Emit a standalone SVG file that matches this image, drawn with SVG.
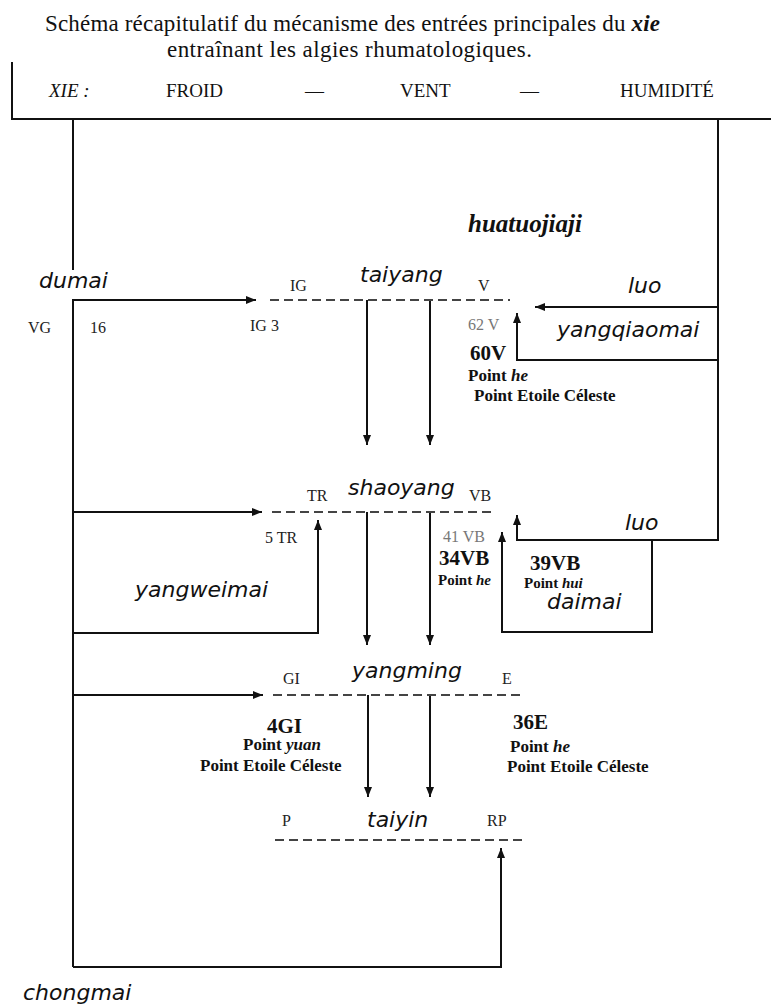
<svg xmlns="http://www.w3.org/2000/svg" width="771" height="1005" viewBox="0 0 771 1005">
<defs>
<style>
.ln{fill:none;stroke:#111;stroke-width:2}
.ds{fill:none;stroke:#444;stroke-width:2;stroke-dasharray:9 5}
.ttl{font-family:"Liberation Serif",serif;font-size:23px;fill:#111}
.row{font-family:"Liberation Serif",serif;font-size:19px;fill:#111}
.sans{font-family:"DejaVu Sans",Verdana,sans-serif;font-style:italic;font-size:22px;fill:#111}
.lab{font-family:"Liberation Serif",serif;font-size:16px;fill:#222}
.grey{font-family:"Liberation Serif",serif;font-size:16px;fill:#777}
.big{font-family:"Liberation Serif",serif;font-size:21px;font-weight:bold;fill:#111}
.pt{font-family:"Liberation Serif",serif;font-size:17px;font-weight:bold;fill:#111}
.pts{font-family:"Liberation Serif",serif;font-size:15px;font-weight:bold;fill:#111}
.hua{font-family:"Liberation Serif",serif;font-size:25px;font-weight:bold;font-style:italic;fill:#111}
</style>
<marker id="ar" viewBox="0 0 10 8" refX="10" refY="4" markerWidth="10" markerHeight="8" markerUnits="userSpaceOnUse" orient="auto">
<path d="M0,0 L10,4 L0,8 z" fill="#111"/>
</marker>
</defs>
<rect width="771" height="1005" fill="#fff"/>

<g id="title">
<text class="ttl" x="45" y="31" textLength="615" lengthAdjust="spacing">Schéma récapitulatif du mécanisme des entrées principales du <tspan font-weight="bold" font-style="italic">xie</tspan></text>
<text class="ttl" x="167" y="57" textLength="365" lengthAdjust="spacing">entraînant les algies rhumatologiques.</text>
</g>

<g id="xie-header">
<path class="ln" d="M12,62 L12,119 L771,119"/>
<text class="row" x="49" y="97" font-style="italic">XIE :</text>
<text class="row" x="166" y="97">FROID</text>
<text class="row" x="305" y="97">—</text>
<text class="row" x="400" y="97">VENT</text>
<text class="row" x="520" y="97">—</text>
<text class="row" x="620" y="97">HUMIDITÉ</text>
</g>

<g id="connectors">
<path class="ln" d="M73,119 L73,270"/>
<path class="ln" d="M73,967 L73,300 L256,300" marker-end="url(#ar)"/>
<path class="ln" d="M73,967 L501,967 L501,848" marker-end="url(#ar)"/>
<path class="ln" d="M73,512 L262,512" marker-end="url(#ar)"/>
<path class="ln" d="M73,633 L318,633 L318,520" marker-end="url(#ar)"/>
<path class="ln" d="M73,695 L263,695" marker-end="url(#ar)"/>
<path class="ln" d="M367,300 L367,445" marker-end="url(#ar)"/>
<path class="ln" d="M430,300 L430,445" marker-end="url(#ar)"/>
<path class="ln" d="M367,512 L367,645" marker-end="url(#ar)"/>
<path class="ln" d="M430,512 L430,645" marker-end="url(#ar)"/>
<path class="ln" d="M368,695 L368,797" marker-end="url(#ar)"/>
<path class="ln" d="M430,695 L430,797" marker-end="url(#ar)"/>
<path class="ln" d="M718,119 L718,540 L517,540 L517,515" marker-end="url(#ar)"/>
<path class="ln" d="M718,307 L535,307" marker-end="url(#ar)"/>
<path class="ln" d="M718,360 L517,360 L517,313" marker-end="url(#ar)"/>
<path class="ln" d="M652,540 L652,632 L502,632 L502,532" marker-end="url(#ar)"/>
</g>

<g id="huatuojiaji">
<text class="hua" x="468" y="232">huatuojiaji</text>
</g>

<g id="dumai">
<text class="sans" x="39" y="288">dumai</text>
<text class="lab" x="28" y="333">VG</text>
<text class="lab" x="90" y="333">16</text>
</g>

<g id="taiyang">
<path class="ds" d="M270,300 L510,300"/>
<text class="sans" x="360" y="282">taiyang</text>
<text class="lab" x="290" y="291">IG</text>
<text class="lab" x="478" y="291">V</text>
<text class="lab" x="250" y="331">IG 3</text>
<text class="grey" x="468" y="330">62 V</text>
<text class="big" x="470" y="360">60V</text>
<text class="pt" x="468" y="381">Point <tspan font-style="italic">he</tspan></text>
<text class="pt" x="474" y="401">Point Etoile Céleste</text>
</g>

<g id="yangqiaomai">
<text class="sans" x="628" y="293">luo</text>
<text class="sans" x="557" y="337">yangqiaomai</text>
</g>

<g id="shaoyang">
<path class="ds" d="M272,512 L493,512"/>
<text class="sans" x="348" y="495">shaoyang</text>
<text class="lab" x="307" y="501">TR</text>
<text class="lab" x="469" y="501">VB</text>
<text class="lab" x="265" y="543">5 TR</text>
<text class="grey" x="443" y="542">41 VB</text>
<text class="big" x="439" y="565">34VB</text>
<text class="pts" x="438" y="585">Point <tspan font-style="italic">he</tspan></text>
</g>

<g id="yangweimai">
<text class="sans" x="135" y="597">yangweimai</text>
</g>

<g id="daimai">
<text class="sans" x="625" y="530">luo</text>
<text class="big" x="530" y="570">39VB</text>
<text class="pts" x="524" y="588">Point <tspan font-style="italic">hui</tspan></text>
<text class="sans" x="547" y="609">daimai</text>
</g>

<g id="yangming">
<path class="ds" d="M273,695 L523,695"/>
<text class="sans" x="352" y="678">yangming</text>
<text class="lab" x="283" y="684">GI</text>
<text class="lab" x="502" y="684">E</text>
<text class="big" x="267" y="733">4GI</text>
<text class="pt" x="243" y="750">Point <tspan font-style="italic">yuan</tspan></text>
<text class="pt" x="200" y="771">Point Etoile Céleste</text>
<text class="big" x="513" y="729">36E</text>
<text class="pt" x="510" y="752">Point <tspan font-style="italic">he</tspan></text>
<text class="pt" x="507" y="772">Point Etoile Céleste</text>
</g>

<g id="taiyin">
<path class="ds" d="M275,840 L523,840"/>
<text class="sans" x="367" y="827">taiyin</text>
<text class="lab" x="282" y="826">P</text>
<text class="lab" x="487" y="826">RP</text>
</g>

<g id="chongmai">
<text class="sans" x="23" y="1000">chongmai</text>
</g>
</svg>
